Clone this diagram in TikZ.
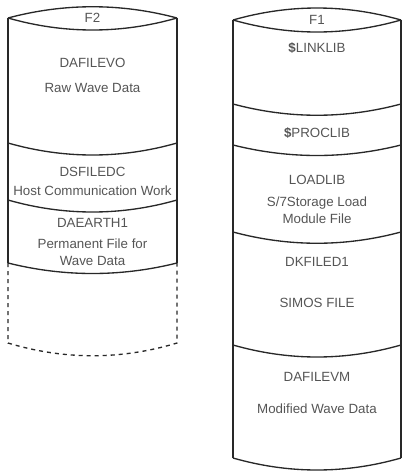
\documentclass[tikz,border=0pt]{standalone}
\usepackage{fontspec}
\setsansfont{Liberation Sans}
\usepackage{xcolor}
\definecolor{inkgray}{RGB}{40, 40, 40}
\definecolor{textgray}{RGB}{85, 85, 85}
\usetikzlibrary{positioning}

\tikzset{
  drum/.style={draw=inkgray, line width=1pt},
  lbl/.style={font=\sffamily\fontsize{10}{13}\selectfont, text=textgray, align=center, inner sep=1pt}
}

\begin{document}
\begin{tikzpicture}[x=0.75pt, y=-0.75pt]
  \useasboundingbox (0,0) rectangle (403,472);

  % --- Left drum: F2 ---
  \draw[drum] (8,18) .. controls (64,3) and (121,3) .. (177,18);
  \draw[drum] (8,18) .. controls (64,34) and (121,34) .. (177,18);
  \draw[drum] (8,18) -- (8,263);
  \draw[drum] (177,18) -- (177,263);
  \draw[drum] (8,143) .. controls (64,159) and (121,159) .. (177,143);
  \draw[drum] (8,200) .. controls (64,216) and (121,216) .. (177,200);
  \draw[drum] (8,263) .. controls (64,277) and (121,277) .. (177,263);
  % free space below
  \draw[drum, dashed] (8,263) -- (8,343) .. controls (64,360) and (121,360) .. (177,343) -- (177,263);

  \node[lbl] (f2)       at (92.5,18)  {F2};
  \node[lbl] (dafilevo) at (92.5,63)  {DAFILEVO};
  \node[lbl] (rawwave)  at (92.5,88)  {Raw Wave Data};
  \node[lbl] (dsfiledc) at (92.5,172) {DSFILEDC};
  \node[lbl] (hostcomm) at (92.5,191) {Host Communication Work};
  \node[lbl] (daearth)  at (92.5,223) {DAEARTH1};
  \node[lbl] (permfile) at (92.5,252) {Permanent File for\\Wave Data};

  % --- Right drum: F1 ---
  \draw[drum] (233,20) .. controls (289,4) and (345,4) .. (401,20);
  \draw[drum] (233,20) .. controls (289,36) and (345,36) .. (401,20);
  \draw[drum] (233,20) -- (233,458);
  \draw[drum] (401,20) -- (401,458);
  \draw[drum] (233,104) .. controls (289,119) and (345,119) .. (401,104);
  \draw[drum] (233,145) .. controls (289,159) and (345,159) .. (401,145);
  \draw[drum] (233,232) .. controls (289,247) and (345,247) .. (401,232);
  \draw[drum] (233,345) .. controls (289,361) and (345,361) .. (401,345);
  \draw[drum] (233,458) .. controls (289,474) and (345,474) .. (401,458);

  \node[lbl] (f1)       at (317,20)  {F1};
  \node[lbl] (linklib)  at (317,48)  {\textbf{\$}LINKLIB};
  \node[lbl] (proclib)  at (317,133) {\textbf{\$}PROCLIB};
  \node[lbl] (loadlib)  at (317,180) {LOADLIB};
  \node[lbl] (loadmod)  at (317,210) {S/7Storage Load\\Module File};
  \node[lbl] (dkfiled)  at (317,262) {DKFILED1};
  \node[lbl] (simos)    at (317,303) {SIMOS FILE};
  \node[lbl] (dafilevm) at (317,377) {DAFILEVM};
  \node[lbl] (modwave)  at (317,409) {Modified Wave Data};
\end{tikzpicture}
\end{document}
